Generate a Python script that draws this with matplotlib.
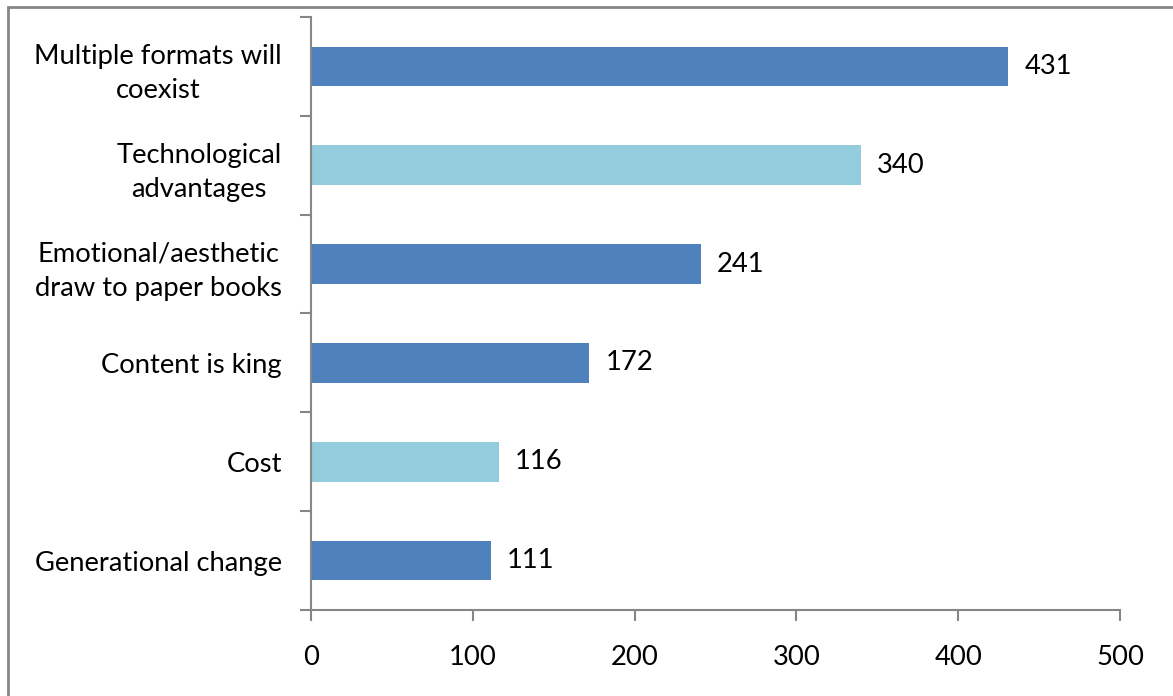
import matplotlib.pyplot as plt
from matplotlib.patches import Rectangle
import numpy as np

# data, top to bottom as in the chart
categories = ['Multiple formats will\ncoexist', 'Technological\nadvantages',
              'Emotional/aesthetic\ndraw to paper books', 'Content is king',
              'Cost', 'Generational change']
values = [431, 340, 241, 172, 116, 111]
colors = ['#4F81BD', '#93CDDD', '#4F81BD', '#4F81BD', '#93CDDD', '#4F81BD']
xticks = [0, 100, 200, 300, 400, 500]

plt.rcParams['font.family'] = ['Lato', 'DejaVu Sans']
grey = '#868686'
fs = 19.7

W, H = 1173, 696
fig = plt.figure(figsize=(W / 100, H / 100), dpi=100)
ax = fig.add_axes([311 / W, 1 - 610 / H, (1120 - 311) / W, (610 - 17) / H])

# outer chart border (runs off the right and bottom edges)
fig.patches.append(Rectangle((8 / W, -0.05), 1.1, 1 - 7 / H + 0.05,
                             transform=fig.transFigure, fill=False,
                             edgecolor=grey, linewidth=2))

ypos = np.arange(len(categories))[::-1]
ax.barh(ypos, values, height=0.4, color=colors)
for y, v in zip(ypos, values):
    ax.text(v + 10, y, str(v), va='center', ha='left', fontsize=fs)

ax.set_xlim(0, 500)
ax.set_ylim(-0.5, len(categories) - 0.5)
ax.set_xticks(xticks)
ax.set_xticklabels([str(t) for t in xticks], fontsize=fs)
ax.set_yticks(ypos)
ax.set_yticklabels(categories, fontsize=fs, multialignment='center', linespacing=1.45)
ax.set_yticks(np.arange(-0.5, len(categories)), minor=True)

for s in ['top', 'right']:
    ax.spines[s].set_visible(False)
for s in ['left', 'bottom']:
    ax.spines[s].set_color(grey)
    ax.spines[s].set_linewidth(1.5)

ax.tick_params(axis='y', which='major', length=0, pad=21)
ax.tick_params(axis='y', which='minor', length=8, color=grey, width=1.5)
ax.tick_params(axis='x', length=8, color=grey, width=1.5, pad=17)

fig.savefig('out.png', dpi=100)
